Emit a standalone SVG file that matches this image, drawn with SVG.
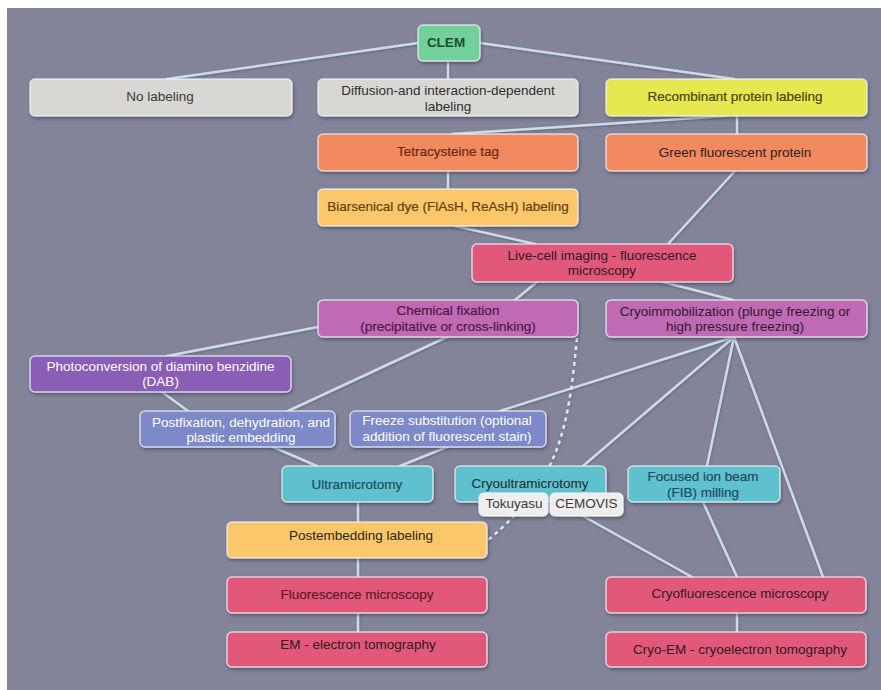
<svg xmlns="http://www.w3.org/2000/svg" width="881" height="690" viewBox="0 0 881 690">
  <defs>
    <filter id="shadow" x="-10%" y="-20%" width="120%" height="160%">
      <feDropShadow dx="1" dy="2" stdDeviation="1.6" flood-color="#2e2f45" flood-opacity="0.55"/>
    </filter>
    <filter id="lineShadow" x="-5%" y="-5%" width="110%" height="110%">
      <feDropShadow dx="0.5" dy="1" stdDeviation="0.8" flood-color="#3a3b55" flood-opacity="0.45"/>
    </filter>
  </defs>
  <style>
    .box { stroke: #eef3f8; stroke-opacity: 0.75; stroke-width: 1.5; filter: url(#shadow); }
    text { font-family: "Liberation Sans", Arial, Helvetica, sans-serif; font-size: 13.5px; text-anchor: middle; }
    .heavy { stroke-width: 0.2px; }
    .link { fill: none; stroke: #c9dce8; stroke-width: 2.5; stroke-linecap: round; }
    .dash { fill: none; stroke: #dfe6ee; stroke-width: 2.5; stroke-dasharray: 4 4; }
    .grey { fill: #d9d7d4; }
    .green { fill: #72d19b; }
    .yellow { fill: #e7e74f; }
    .salmon { fill: #f2895f; }
    .amber { fill: #fcc66a; }
    .rose { fill: #e2597a; }
    .magenta { fill: #c16ab4; }
    .purple { fill: #8a5db7; }
    .lavender { fill: #7e89c9; }
    .cyan { fill: #5fc1cd; }
    .tag { fill: #eeeeee; }
  </style>

  <!-- backdrop -->
  <rect x="0" y="0" width="881" height="690" fill="#ffffff"/>
  <rect x="7" y="8" width="874" height="682" fill="#838499"/>

  <!-- connectors -->
  <g id="connectors" filter="url(#lineShadow)">
    <path class="link" d="M418,43 L167,79"/>
    <path class="link" d="M448,61 L448,79"/>
    <path class="link" d="M480,43 L734,79"/>
    <path class="link" d="M725,116 L452,134"/>
    <path class="link" d="M737,116 L737,134"/>
    <path class="link" d="M448,171 L448,189"/>
    <path class="link" d="M735,171 L668,244"/>
    <path class="link" d="M455,226 L535,244"/>
    <path class="link" d="M537,282 L515,300"/>
    <path class="link" d="M663,282 L733,300"/>
    <path class="link" d="M318,327 L167,356"/>
    <path class="link" d="M447,337 L288,411"/>
    <path class="link" d="M162,392 L188,411"/>
    <path class="link" d="M273,447 L317,466"/>
    <path class="link" d="M447,447 L400,466"/>
    <path class="link" d="M734,337 L500,411"/>
    <path class="link" d="M734,337 L583,466"/>
    <path class="link" d="M734,337 L707,466"/>
    <path class="link" d="M734,337 L823,577"/>
    <path class="link" d="M703,502 L737,577"/>
    <path class="link" d="M583,516 L692,577"/>
    <path class="link" d="M358,502 L358,522"/>
    <path class="link" d="M358,558 L358,577"/>
    <path class="link" d="M358,613 L358,632"/>
    <path class="link" d="M737,613 L737,632"/>
    <path class="dash" d="M577,338 C568,430 560,480 488,540"/>
  </g>

  <!-- nodes -->
  <g id="clem">
    <rect class="box green" x="418" y="25" width="62" height="36" rx="5"/>
    <text x="446" y="46.5" fill="#17502e" font-weight="bold" font-size="13">CLEM</text>
  </g>
  <g id="no-labeling">
    <rect class="box grey" x="30" y="79" width="262" height="37" rx="5"/>
    <text x="160" y="101" fill="#3a3a3a">No labeling</text>
  </g>
  <g id="diffusion-labeling">
    <rect class="box grey" x="318" y="79" width="260" height="37" rx="5"/>
    <text x="448" y="94.5" fill="#2e2e2e">Diffusion-and interaction-dependent</text>
    <text x="448" y="110.5" fill="#2e2e2e">labeling</text>
  </g>
  <g id="recombinant-labeling">
    <rect class="box yellow" x="606" y="79" width="261" height="37" rx="5"/>
    <text class="heavy" x="735" y="101" fill="#4a4512" stroke="#4a4512">Recombinant protein labeling</text>
  </g>
  <g id="tetracysteine">
    <rect class="box salmon" x="318" y="134" width="260" height="37" rx="5"/>
    <text class="heavy" x="448" y="156" fill="#6a2a10" stroke="#6a2a10">Tetracysteine tag</text>
  </g>
  <g id="gfp">
    <rect class="box salmon" x="606" y="134" width="261" height="37" rx="5"/>
    <text x="735" y="156.5" fill="#2a2220">Green fluorescent protein</text>
  </g>
  <g id="biarsenical">
    <rect class="box amber" x="318" y="189" width="260" height="37" rx="5"/>
    <text class="heavy" x="448" y="211" fill="#6a3e08" stroke="#6a3e08">Biarsenical dye (FlAsH, ReAsH) labeling</text>
  </g>
  <g id="live-cell">
    <rect class="box rose" x="472" y="244" width="261" height="38" rx="5"/>
    <text x="602" y="260" fill="#2e1a22">Live-cell imaging - fluorescence</text>
    <text x="602" y="275" fill="#2e1a22">microscopy</text>
  </g>
  <g id="chemical-fixation">
    <rect class="box magenta" x="318" y="300" width="260" height="37" rx="5"/>
    <text class="heavy" x="448" y="314.5" fill="#4e1848" stroke="#4e1848">Chemical fixation</text>
    <text class="heavy" x="448" y="330.5" fill="#4e1848" stroke="#4e1848">(precipitative or cross-linking)</text>
  </g>
  <g id="cryoimmobilization">
    <rect class="box magenta" x="606" y="300" width="261" height="37" rx="5"/>
    <text x="735" y="315.5" fill="#2e1a2e">Cryoimmobilization (plunge freezing or</text>
    <text x="735" y="330.5" fill="#2e1a2e">high pressure freezing)</text>
  </g>
  <g id="photoconversion">
    <rect class="box purple" x="30" y="356" width="261" height="36" rx="5"/>
    <text x="160.5" y="370.5" fill="#ffffff">Photoconversion of diamino benzidine</text>
    <text x="160.5" y="386" fill="#ffffff">(DAB)</text>
  </g>
  <g id="postfixation">
    <rect class="box lavender" x="140" y="411" width="195" height="36" rx="5"/>
    <text x="241" y="427" fill="#ffffff">Postfixation, dehydration, and</text>
    <text x="241" y="442" fill="#ffffff">plastic embedding</text>
  </g>
  <g id="freeze-substitution">
    <rect class="box lavender" x="350" y="411" width="196" height="36" rx="5"/>
    <text x="447" y="425" fill="#ffffff">Freeze substitution (optional</text>
    <text x="447" y="441" fill="#ffffff">addition of fluorescent stain)</text>
  </g>
  <g id="ultramicrotomy">
    <rect class="box cyan" x="282" y="466" width="151" height="36" rx="5"/>
    <text class="heavy" x="357" y="488.5" fill="#1e4e5a" stroke="#1e4e5a">Ultramicrotomy</text>
  </g>
  <g id="cryoultramicrotomy">
    <rect class="box cyan" x="455" y="466" width="151" height="36" rx="5"/>
    <text x="530" y="487.5" fill="#1e2a30">Cryoultramicrotomy</text>
  </g>
  <g id="fib-milling">
    <rect class="box cyan" x="628" y="466" width="152" height="36" rx="5"/>
    <text class="heavy" x="703" y="480.5" fill="#1e4a62" stroke="#1e4a62">Focused ion beam</text>
    <text class="heavy" x="703" y="496.5" fill="#1e4a62" stroke="#1e4a62">(FIB) milling</text>
  </g>
  <g id="tokuyasu">
    <rect class="box tag" x="479" y="493" width="69" height="23" rx="5"/>
    <text x="514" y="507.5" fill="#3a3a3a" font-size="13">Tokuyasu</text>
  </g>
  <g id="cemovis">
    <rect class="box tag" x="550" y="493" width="73" height="23" rx="5"/>
    <text x="586.5" y="507.5" fill="#3a3a3a" font-size="13">CEMOVIS</text>
  </g>
  <g id="postembedding-labeling">
    <rect class="box amber" x="227" y="522" width="260" height="36" rx="5"/>
    <text x="361" y="539.5" fill="#2a2520">Postembedding labeling</text>
  </g>
  <g id="fluorescence-microscopy">
    <rect class="box rose" x="227" y="577" width="260" height="36" rx="5"/>
    <text class="heavy" x="357" y="598.5" fill="#5e1a2c" stroke="#5e1a2c">Fluorescence microscopy</text>
  </g>
  <g id="em-tomography">
    <rect class="box rose" x="227" y="632" width="260" height="35" rx="5"/>
    <text x="358" y="648.5" fill="#2e1a22">EM - electron tomography</text>
  </g>
  <g id="cryofluorescence-microscopy">
    <rect class="box rose" x="606" y="577" width="260" height="36" rx="5"/>
    <text x="740" y="597.5" fill="#2e1a22">Cryofluorescence microscopy</text>
  </g>
  <g id="cryo-em">
    <rect class="box rose" x="606" y="632" width="260" height="35" rx="5"/>
    <text x="740" y="653.5" fill="#2e1a22">Cryo-EM - cryoelectron tomography</text>
  </g>
</svg>
